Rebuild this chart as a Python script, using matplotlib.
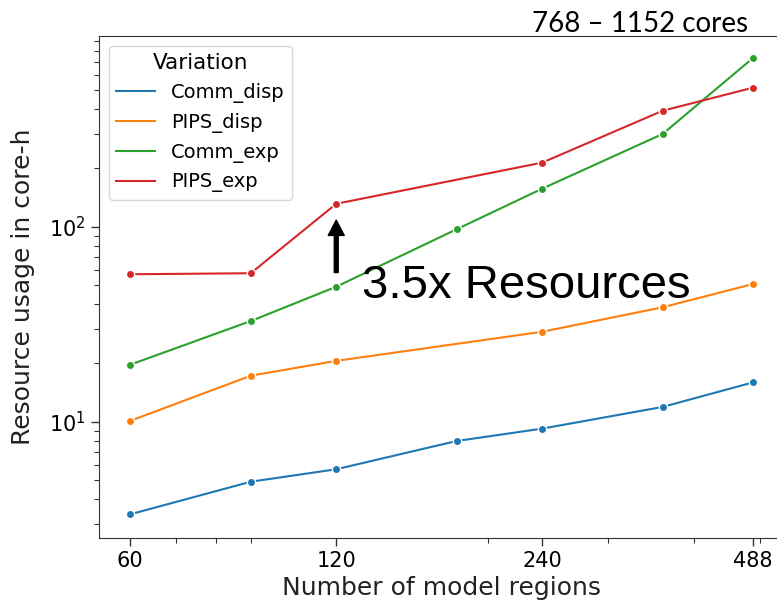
import matplotlib
matplotlib.use("Agg")
import matplotlib.pyplot as plt
from matplotlib.ticker import NullFormatter, FixedLocator, FixedFormatter

# model regions per run (PIPS and Comm_disp sweeps skip 180)
regions_all = [60, 90, 120, 180, 240, 360, 488]
regions_sub = [60, 90, 120, 240, 360, 488]

comm_disp = [3.35, 4.92, 5.70, 7.96, 9.21, 11.9, 15.9]
pips_disp = [10.1, 17.2, 20.5, 28.9, 38.6, 50.8]
comm_exp = [19.6, 32.8, 49.2, 97.0, 156.6, 298.7, 733.0]
pips_exp = [57.0, 57.7, 131.0, 213.0, 393.0, 516.0]

xtick_vals = [60, 120, 240, 488]

fig = plt.figure(figsize=(7.77, 6.01), dpi=100)
ax = fig.add_axes([0.1274, 0.1053, 0.8816, 0.8348])

series = [
    ("Comm_disp", regions_all, comm_disp, "#1f77b4"),
    ("PIPS_disp", regions_sub, pips_disp, "#ff7f0e"),
    ("Comm_exp", regions_all, comm_exp, "#2ca02c"),
    ("PIPS_exp", regions_sub, pips_exp, "#d62728"),
]
handles = []
for name, xs, ys, col in series:
    ax.plot(xs, ys, color=col, lw=1.5, marker="o", ms=6,
            mec="white", mew=1.0)
    h, = ax.plot([], [], color=col, lw=1.5, label=name)
    handles.append(h)

ax.set_xscale("log")
ax.set_yscale("log")
ax.set_xlim(54.0, 541.6)
ax.set_ylim(2.54, 950)

ax.xaxis.set_major_locator(FixedLocator(xtick_vals))
ax.xaxis.set_major_formatter(FixedFormatter([str(v) for v in xtick_vals]))
ax.xaxis.set_minor_formatter(NullFormatter())

ax.tick_params(which="major", labelsize=15, length=6, width=1, color="#333333")
ax.tick_params(which="minor", length=3.5, width=0.8, color="#333333")
for s in ax.spines.values():
    s.set_color("#333333")

ax.set_xlabel("Number of model regions", fontsize=18, color="#222222")
ax.set_ylabel("Resource usage in core-h", fontsize=18, color="#222222", labelpad=10)

leg = ax.legend(handles=handles, title="Variation", loc="upper left",
                fontsize=14, title_fontsize=15.5, framealpha=0.8)
leg.get_frame().set_edgecolor("#cccccc")

# arrow marking the jump at 120 regions
ax.annotate("", xy=(120, 108), xytext=(120, 58.2),
            arrowprops=dict(facecolor="black", edgecolor="black", width=2.8,
                            headwidth=11.5, headlength=11, shrink=0))

fig.text(0.4655, 0.5037, "3.5x Resources", fontsize=34,
         family="Liberation Sans", va="baseline", ha="left")
fig.text(0.9627, 1 - 31.7 / 601, "768 \u2013 1152 cores", fontsize=20,
         family="Lato", va="baseline", ha="right")

fig.savefig("out.png", dpi=100)
